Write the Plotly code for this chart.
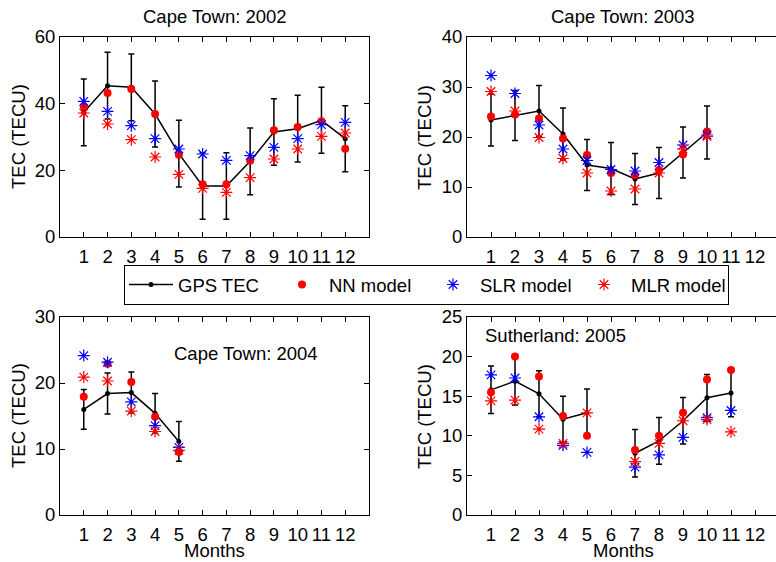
import plotly.graph_objects as go

FONT = "Liberation Sans, Arial, sans-serif"
FS = 18.5

# ---------------- data ----------------
months_2002 = [1, 2, 3, 4, 5, 6, 7, 8, 9, 10, 11, 12]
gps_2002 = [37.4, 45.4, 44.9, 36.9, 25.0, 15.3, 15.3, 22.7, 31.5, 32.5, 35.0, 29.5]
err_2002 = [10.0, 10.0, 10.0, 9.9, 10.0, 10.0, 10.0, 10.0, 10.0, 10.0, 9.9, 9.9]
nn_2002 = [39.2, 43.2, 44.4, 36.9, 24.7, 15.8, 15.8, 22.9, 32.0, 33.0, 34.7, 26.5]
slr_2002 = [40.7, 37.7, 33.4, 29.5, 26.4, 24.9, 23.0, 24.4, 26.9, 29.5, 33.7, 34.4]
mlr_2002 = [37.2, 33.9, 29.2, 24.0, 18.8, 14.6, 13.4, 17.8, 23.4, 26.4, 30.2, 31.2]

months_2003 = [1, 2, 3, 4, 5, 6, 7, 8, 9, 10]
gps_2003 = [23.4, 24.3, 25.2, 20.6, 14.4, 13.7, 11.6, 12.8, 16.9, 20.9]
err_2003 = [5.2, 5.0, 5.1, 5.2, 5.1, 5.2, 5.1, 5.1, 5.1, 5.3]
nn_2003 = [24.1, 24.5, 23.7, 19.7, 16.4, 12.8, 12.4, 13.4, 16.5, 21.1]
slr_2003 = [32.3, 28.7, 22.4, 17.6, 15.3, 13.5, 13.2, 14.9, 18.4, 20.4]
mlr_2003 = [29.1, 25.2, 19.9, 15.7, 12.8, 9.2, 9.6, 12.8, 17.6, 20.1]

months_2004 = [1, 2, 3, 4, 5]
gps_2004 = [16.0, 18.4, 18.55, 15.4, 11.15]
err_2004 = [3.0, 3.1, 3.1, 3.0, 3.0]
nn_2004 = [17.9, 22.9, 20.15, 14.9, 9.55]
slr_2004 = [24.15, 23.15, 17.15, 13.55, 10.25]
mlr_2004 = [20.9, 20.3, 15.75, 12.65, 9.8]

months_2005 = [1, 2, 3, 4, 5, 6, 7, 8, 9, 10, 11]
gps_2005 = [15.8, 16.9, 15.3, 12.1, 12.9, None, 7.8, 9.35, 11.9, 14.8, 15.4]
err_2005 = [3.0, 3.0, 2.9, 2.9, 3.0, None, 3.0, 2.95, 2.95, 2.95, 3.0]
nn_2005 = [15.5, 20.0, 17.5, 12.5, 10.0, None, 8.2, 10.0, 12.9, 17.1, 18.3]
slr_2005 = [17.7, 17.3, 12.4, 8.8, 7.9, None, 6.05, 7.6, 9.8, 12.3, 13.2]
mlr_2005 = [14.4, 14.5, 10.85, 9.05, 12.9, None, 6.75, 9.05, 11.9, 12.05, 10.5]

month_ticks = [1, 2, 3, 4, 5, 6, 7, 8, 9, 10, 11, 12]
series_names = ["GPS TEC", "NN model", "SLR model", "MLR model"]

panels = [
    (months_2002, gps_2002, err_2002, nn_2002, slr_2002, mlr_2002, "x", "y"),
    (months_2003, gps_2003, err_2003, nn_2003, slr_2003, mlr_2003, "x2", "y2"),
    (months_2004, gps_2004, err_2004, nn_2004, slr_2004, mlr_2004, "x3", "y3"),
    (months_2005, gps_2005, err_2005, nn_2005, slr_2005, mlr_2005, "x4", "y4"),
]

fig = go.Figure()
for i, (m, g, e, nn, slr, mlr, xa, ya) in enumerate(panels):
    first = i == 0
    fig.add_trace(go.Scatter(
        x=m, y=g, name=series_names[0], mode="lines+markers", xaxis=xa, yaxis=ya,
        line=dict(color="black", width=1.5), marker=dict(color="black", size=5),
        error_y=dict(type="data", array=e, visible=True, color="black", thickness=1.5, width=3),
        connectgaps=False, showlegend=first, legendgroup="gps"))
    fig.add_trace(go.Scatter(
        x=m, y=nn, name=series_names[1], mode="markers", xaxis=xa, yaxis=ya,
        marker=dict(color="#ff0000", size=8, symbol="circle"),
        showlegend=first, legendgroup="nn"))
    fig.add_trace(go.Scatter(
        x=m, y=slr, name=series_names[2], mode="markers", xaxis=xa, yaxis=ya,
        marker=dict(color="#0000ff", size=10, symbol="asterisk-open",
                    line=dict(color="#0000ff", width=1.2)),
        showlegend=first, legendgroup="slr"))
    fig.add_trace(go.Scatter(
        x=m, y=mlr, name=series_names[3], mode="markers", xaxis=xa, yaxis=ya,
        marker=dict(color="#ff0000", size=10, symbol="asterisk-open",
                    line=dict(color="#ff0000", width=1.2)),
        showlegend=first, legendgroup="mlr"))

W, H = 776, 562
def px_x(a, b):
    return [a / W, b / W]
def px_y(top, bottom):
    return [(H - bottom) / H, (H - top) / H]

tickfont = dict(family=FONT, size=FS, color="black")
common_x = dict(tickmode="array", tickvals=month_ticks, ticktext=[str(v) for v in month_ticks],
                ticks="inside", ticklen=5, tickcolor="black", showline=True, linecolor="black",
                linewidth=1, mirror="ticks", showgrid=False, zeroline=False, tickfont=tickfont,
                automargin=False, ticklabelstandoff=3)
common_y = dict(ticks="inside", ticklen=5, tickcolor="black", showline=True, linecolor="black",
                linewidth=1, showgrid=False, zeroline=False, tickfont=tickfont, automargin=False)
overlay_y = dict(side="right", ticks="inside", ticklen=5, tickcolor="black", showline=False,
                 showticklabels=False, showgrid=False, zeroline=False, automargin=False)

right_max = (776 - 467) / 24.0

fig.update_layout(
    template="none",
    width=W, height=H, margin=dict(l=0, r=0, t=0, b=0, autoexpand=False),
    paper_bgcolor="white", plot_bgcolor="white",
    font=dict(family=FONT, size=FS, color="black"),
    xaxis=dict(domain=px_x(60, 369), range=[0, 13], anchor="y", **common_x),
    yaxis=dict(domain=px_y(37, 237), range=[0, 60], tickvals=[0, 20, 40, 60], anchor="x",
               mirror="ticks", **common_y),
    xaxis2=dict(domain=px_x(467, 776), range=[0, right_max], anchor="y2", **common_x),
    yaxis2=dict(domain=px_y(37, 237), range=[0, 40], tickvals=[0, 10, 20, 30, 40], anchor="x2",
                mirror=False, **common_y),
    yaxis5=dict(overlaying="y2", anchor="x2", range=[0, 40], tickvals=[0, 10, 20, 30, 40], **overlay_y),
    xaxis3=dict(domain=px_x(60, 369), range=[0, 13], anchor="y3", **common_x),
    yaxis3=dict(domain=px_y(317, 515), range=[0, 30], tickvals=[0, 10, 20, 30], anchor="x3",
                mirror="ticks", **common_y),
    xaxis4=dict(domain=px_x(467, 776), range=[0, right_max], anchor="y4", **common_x),
    yaxis4=dict(domain=px_y(317, 515), range=[0, 25], tickvals=[0, 5, 10, 15, 20, 25], anchor="x4",
                mirror=False, **common_y),
    yaxis6=dict(overlaying="y4", anchor="x4", range=[0, 25], tickvals=[0, 5, 10, 15, 20, 25], **overlay_y),
    legend=dict(orientation="h", x=124 / W, xanchor="left", y=(H - 265) / H, yanchor="top",
                bordercolor="black", borderwidth=1, bgcolor="white",
                font=dict(family=FONT, size=FS, color="black"),
                entrywidth=92, entrywidthmode="pixels", itemwidth=44, tracegroupgap=0),
    showlegend=True,
)

ann = []
def text_ann(x, y, t, angle=0, yanchor="middle"):
    ann.append(dict(x=x / W, y=(H - y) / H, xref="paper", yref="paper", text=t, showarrow=False,
                    xanchor="center", yanchor=yanchor, textangle=angle, borderpad=0,
                    font=dict(family=FONT, size=FS, color="black")))

text_ann(214.5, 16, "Cape Town: 2002")
text_ann(623, 16, "Cape Town: 2003")
text_ann(246, 353, "Cape Town: 2004")
text_ann(555, 335, "Sutherland: 2005")
text_ann(18, 137, "TEC (TECU)", -90)
text_ann(424, 137, "TEC (TECU)", -90)
text_ann(18, 416, "TEC (TECU)", -90)
text_ann(424, 416, "TEC (TECU)", -90)
text_ann(214.5, 562, "Months", yanchor="bottom")
text_ann(623, 562, "Months", yanchor="bottom")
fig.update_layout(annotations=ann)

fig.write_html("out.html")
